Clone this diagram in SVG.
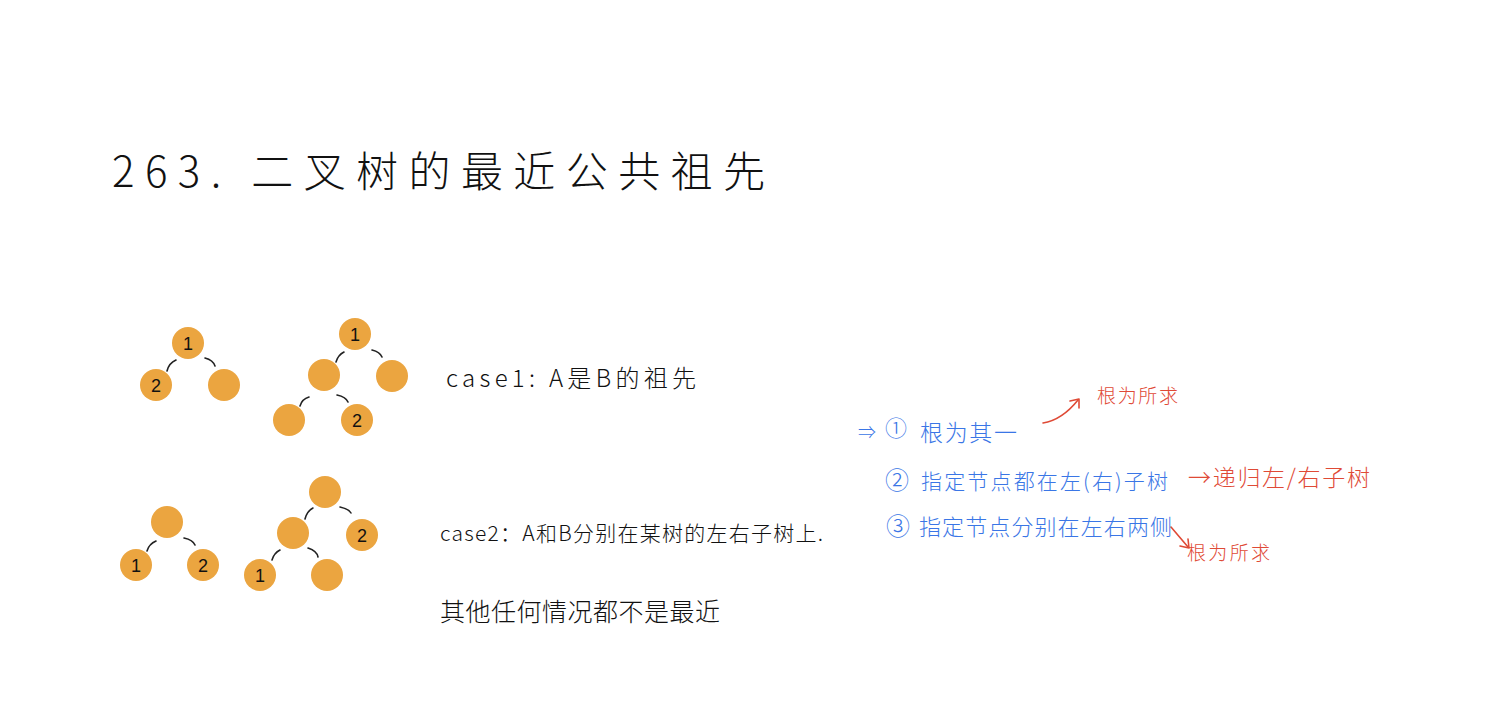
<svg xmlns="http://www.w3.org/2000/svg" width="1488" height="716" viewBox="0 0 1488 716">
<style>
.t{font-family:"Noto Sans CJK SC","Liberation Sans",sans-serif;font-weight:300}
.k{fill:#111}
.b{fill:#3a76e6}
.r{fill:#df4a36}
.n{fill:#EBA540}
.num{font-family:"Liberation Sans",sans-serif;font-size:18px;fill:#111;text-anchor:middle}
.e{fill:none;stroke:#222;stroke-width:1.6;stroke-linecap:round}
.ra{fill:none;stroke:#df4a36;stroke-width:1.6;stroke-linecap:round;stroke-linejoin:round}
</style>
<rect width="1488" height="716" fill="#fff"/>
<g id="title"><text class="t k" x="112" y="187" font-size="42" textLength="653" lengthAdjust="spacing">263. 二叉树的最近公共祖先</text></g>

<g id="connectors">
<path class="e" d="M167,371 Q169,363 176,360"/>
<path class="e" d="M205,358 Q213,360 215,366"/>
<path class="e" d="M336,362 Q338,355 344,352"/>
<path class="e" d="M372,350 Q380,352 382,357"/>
<path class="e" d="M300,406 Q302,399 309,397"/>
<path class="e" d="M337,395 Q346,397 348,402"/>
<path class="e" d="M147,551 Q149,544 156,541"/>
<path class="e" d="M184,538 Q193,540 195,545"/>
<path class="e" d="M305,519 Q307,511 313,508"/>
<path class="e" d="M340,507 Q349,509 351,513"/>
<path class="e" d="M272,560 Q274,553 280,550"/>
<path class="e" d="M308,548 Q317,551 318,557"/>
<path class="ra" d="M1043,423 Q1062,420 1078,400"/>
<path class="ra" d="M1070,401 L1079,399 L1079,408"/>
<path class="ra" d="M1171,527 L1188,547"/>
<path class="ra" d="M1180,546 L1189,548 L1188,539"/>
</g>

<g id="tree1">
<circle class="n" cx="188" cy="343" r="16"/><text class="num" x="188" y="350">1</text>
<circle class="n" cx="156" cy="385" r="16"/><text class="num" x="156" y="392">2</text>
<circle class="n" cx="224" cy="385" r="16"/>
</g>
<g id="tree2">
<circle class="n" cx="355" cy="334" r="16"/><text class="num" x="355" y="341">1</text>
<circle class="n" cx="324" cy="375" r="16"/>
<circle class="n" cx="392" cy="376" r="16"/>
<circle class="n" cx="289" cy="420" r="16"/>
<circle class="n" cx="357" cy="420" r="16"/><text class="num" x="357" y="427">2</text>
</g>
<g id="tree3">
<circle class="n" cx="167" cy="522" r="16"/>
<circle class="n" cx="136" cy="565" r="16"/><text class="num" x="136" y="572">1</text>
<circle class="n" cx="203" cy="565" r="16"/><text class="num" x="203" y="572">2</text>
</g>
<g id="tree4">
<circle class="n" cx="325" cy="492" r="16"/>
<circle class="n" cx="293" cy="533" r="16"/>
<circle class="n" cx="362" cy="535" r="16"/><text class="num" x="362" y="542">2</text>
<circle class="n" cx="260" cy="575" r="16"/><text class="num" x="260" y="582">1</text>
<circle class="n" cx="327" cy="575" r="16"/>
</g>

<g id="case1"><text class="t k" x="446" y="387" font-size="24" textLength="250" lengthAdjust="spacing">case1: A是B的祖先</text></g>
<g id="case2"><text class="t k" x="440" y="541" font-size="21" textLength="383" lengthAdjust="spacing">case2：A和B分别在某树的左右子树上.</text></g>
<g id="other"><text class="t k" x="440" y="621" font-size="25" textLength="280" lengthAdjust="spacing">其他任何情况都不是最近</text></g>

<g id="rule1">
<text class="t b" x="858" y="439" font-size="18">⇒</text>
<text class="t b" x="885" y="436" font-size="22">①</text>
<text class="t b" x="920" y="441" font-size="23" textLength="97" lengthAdjust="spacing">根为其一</text>
</g>
<g id="note1"><text class="t r" x="1097" y="403" font-size="19" textLength="81" lengthAdjust="spacing">根为所求</text></g>
<g id="rule2">
<text class="t b" x="885" y="489" font-size="24">②</text>
<text class="t b" x="921" y="489" font-size="21" textLength="247" lengthAdjust="spacing">指定节点都在左(右)子树</text>
</g>
<g id="note2"><text class="t r" x="1188" y="486" font-size="23" textLength="182" lengthAdjust="spacing">→递归左/右子树</text></g>
<g id="rule3">
<text class="t b" x="886" y="535" font-size="24">③</text>
<text class="t b" x="919" y="535" font-size="22" textLength="253" lengthAdjust="spacing">指定节点分别在左右两侧</text>
</g>
<g id="note3"><text class="t r" x="1187" y="560" font-size="19" textLength="83" lengthAdjust="spacing">根为所求</text></g>
</svg>
